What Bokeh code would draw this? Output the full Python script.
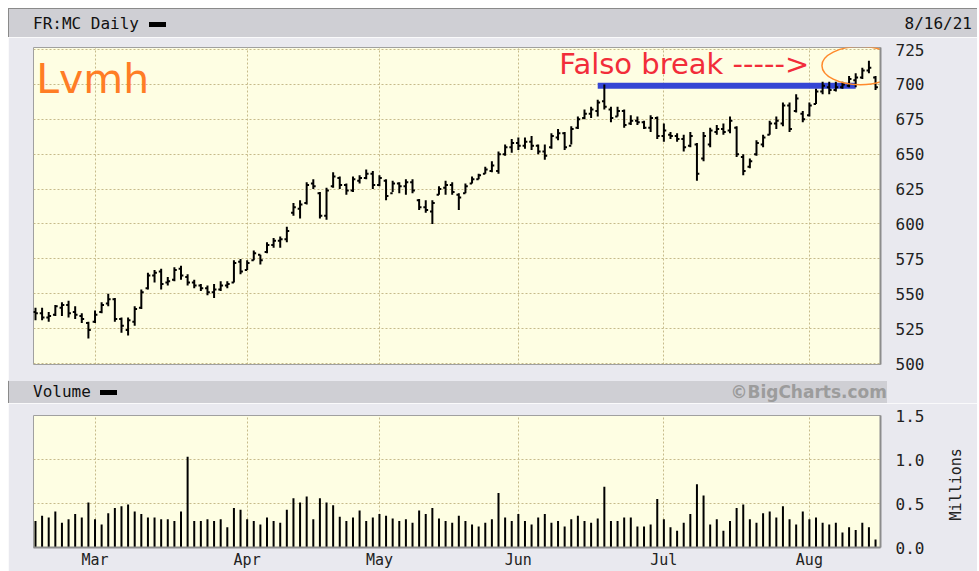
import math
from bokeh.plotting import figure
from bokeh.layouts import column
from bokeh.models import Div, FixedTicker, Label, ColumnDataSource, Range1d
from bokeh.embed import file_html
from bokeh.resources import INLINE

# ---------------- data (FR:MC daily, 16 Feb 2021 - 16 Aug 2021, one entry per trading day) ----
high = [540, 540, 537, 542, 544, 545, 541, 536, 530, 538, 544, 550, 547, 533, 533, 541, 553, 565, 567, 568,
        562, 569, 570, 564, 560, 557, 556, 557, 559, 559, 574, 575, 574, 581, 578, 587, 590, 591, 598, 615,
        617, 630, 632, 623, 626, 637, 634, 629, 634, 635, 639, 638, 635, 632, 631, 630, 632, 632, 618, 617,
        617, 627, 631, 630, 622, 629, 634, 636, 641, 645, 652, 657, 661, 662, 662, 663, 657, 657, 665, 668,
        666, 670, 677, 682, 684, 689, 700, 684, 684, 682, 678, 677, 674, 678, 677, 672, 666, 665, 664, 666,
        658, 666, 669, 671, 672, 677, 670, 650, 647, 660, 664, 674, 677, 687, 687, 693, 681, 687, 697, 702,
        702, 702, 702, 706, 708, 712, 717, 706]
low = [531, 531, 530, 534, 534, 533, 532, 529, 518, 529, 536, 541, 530, 522, 520, 527, 539, 553, 558, 553,
       556, 559, 560, 556, 554, 552, 549, 547, 552, 554, 558, 564, 567, 574, 571, 579, 583, 583, 587, 606,
       604, 614, 625, 604, 603, 626, 625, 621, 623, 629, 632, 625, 627, 617, 623, 622, 621, 622, 610, 608,
       600, 621, 621, 621, 610, 622, 629, 632, 636, 637, 636, 649, 651, 653, 654, 653, 650, 646, 654, 660,
       653, 657, 668, 675, 676, 677, 682, 673, 677, 669, 671, 671, 668, 666, 661, 659, 661, 659, 652, 655,
       631, 645, 655, 664, 664, 665, 648, 635, 640, 649, 655, 664, 668, 670, 666, 680, 673, 677, 686, 693,
       693, 695, 697, 698, 698, 704, 708, 696]
open_ = [537, 536, 533, 535, 540, 542, 537, 534, 529, 530, 537, 543, 546, 532, 524, 530, 540, 554, 563, 566,
         558, 560, 568, 562, 558, 556, 554, 551, 553, 556, 558, 573, 567, 574, 578, 580, 585, 588, 589, 608,
         611, 615, 629, 622, 606, 627, 633, 628, 624, 631, 633, 636, 628, 631, 622, 629, 627, 630, 617, 612,
         609, 621, 626, 628, 621, 622, 629, 632, 636, 638, 638, 650, 655, 658, 656, 659, 656, 652, 655, 662,
         665, 656, 669, 676, 679, 681, 688, 682, 677, 681, 672, 674, 673, 669, 676, 663, 664, 663, 661, 656,
         657, 647, 657, 666, 668, 667, 669, 648, 641, 650, 657, 664, 672, 672, 685, 681, 679, 678, 686, 695,
         698, 696, 698, 699, 703, 705, 710, 705]
close = [536, 533, 534, 541, 542, 536, 535, 532, 524, 535, 542, 546, 532, 527, 531, 539, 551, 563, 565, 557,
         559, 567, 563, 558, 556, 554, 551, 553, 556, 557, 572, 566, 572, 579, 574, 585, 588, 589, 595, 612,
         614, 628, 627, 606, 624, 634, 628, 624, 632, 633, 636, 628, 633, 620, 629, 627, 630, 624, 612, 610,
         615, 625, 628, 623, 619, 627, 632, 635, 639, 642, 650, 655, 658, 656, 659, 656, 652, 649, 663, 665,
         655, 668, 675, 679, 682, 687, 684, 676, 681, 671, 674, 673, 669, 676, 663, 667, 663, 661, 655, 663,
         636, 663, 667, 668, 666, 674, 650, 638, 645, 658, 662, 672, 674, 685, 668, 690, 675, 685, 695, 699,
         696, 698, 700, 704, 705, 710, 712, 698]
volume = [0.30, 0.36, 0.34, 0.41, 0.28, 0.32, 0.38, 0.34, 0.51, 0.32, 0.26, 0.39, 0.45, 0.47, 0.49, 0.41,
          0.38, 0.34, 0.34, 0.32, 0.32, 0.30, 0.41, 1.03, 0.30, 0.30, 0.32, 0.30, 0.32, 0.23, 0.45, 0.43,
          0.32, 0.30, 0.26, 0.34, 0.30, 0.28, 0.43, 0.56, 0.51, 0.58, 0.32, 0.56, 0.51, 0.48, 0.35, 0.30,
          0.34, 0.42, 0.30, 0.34, 0.38, 0.36, 0.33, 0.30, 0.32, 0.28, 0.42, 0.38, 0.45, 0.33, 0.30, 0.28,
          0.36, 0.30, 0.26, 0.24, 0.28, 0.32, 0.62, 0.34, 0.30, 0.38, 0.30, 0.26, 0.34, 0.38, 0.28, 0.30,
          0.24, 0.32, 0.36, 0.30, 0.28, 0.33, 0.69, 0.30, 0.30, 0.34, 0.34, 0.24, 0.24, 0.26, 0.55, 0.32,
          0.23, 0.19, 0.28, 0.38, 0.72, 0.59, 0.26, 0.32, 0.19, 0.30, 0.45, 0.49, 0.32, 0.28, 0.39, 0.41,
          0.34, 0.47, 0.32, 0.26, 0.41, 0.32, 0.34, 0.28, 0.26, 0.28, 0.17, 0.23, 0.20, 0.28, 0.23, 0.09]

month_labels = ["Mar", "Apr", "May", "Jun", "Jul", "Aug"]
month_start_idx = [9, 32, 52, 73, 95, 117]          # first trading day of each month
price_ticks = [500, 525, 550, 575, 600, 625, 650, 675, 700, 725]
vol_ticks = [0.0, 0.5, 1.0, 1.5]
vol_tick_labels = ["0.0", "0.5", "1.0", "1.5"]

breakout_level = 699          # horizontal resistance (blue line)
breakout_from, breakout_to = 85, 124
circle_center = (124.7, 713.5)   # highlighted "false break" zone
circle_size = (11.6, 27.3)

# ---------------- styling ----------------
W = 969
YELLOW = "#fefee3"
BG = "#e9e9ef"
BAND = "#cfcfd4"
GRID = "#c6bb8a"
MONO = "DejaVu Sans Mono"
LM = (0, 0, 0, 8)

n = len(high)
xs = list(range(n))
src = ColumnDataSource(dict(
    x=xs, xl=[i - 0.36 for i in xs], xr=[i + 0.36 for i in xs],
    o=open_, h=high, l=low, c=close, v=volume, z=[0] * n))

xr = Range1d(-0.3, 127.75)

# ---------------- header ----------------
header = Div(width=W, height=29, margin=(8, 0, 0, 8), text=(
    f'<div style="width:{W}px;height:29px;box-sizing:border-box;background:{BAND};'
    'border-top:1px solid #8a8a8a;border-left:1px solid #8a8a8a;display:flex;align-items:center;'
    f'justify-content:space-between;padding:2px 5px 0 24px;font-family:\'{MONO}\';font-size:16px;color:#111;">'
    '<span>FR:MC Daily <span style="display:inline-block;width:17px;height:5px;background:#000;'
    'vertical-align:middle;"></span></span><span>8/16/21</span></div>'))

# ---------------- price panel ----------------
p = figure(width=W, height=343, x_range=xr, y_range=Range1d(499.3, 726.5), margin=LM,
           x_axis_location=None, y_axis_location="right",
           output_backend="svg", toolbar_location=None,
           min_border_left=25, min_border_right=95, min_border_top=10, min_border_bottom=16)
p.background_fill_color = YELLOW
p.border_fill_color = BG
p.outline_line_color = "#a0a0a0"
p.outline_line_width = 1

p.yaxis.ticker = FixedTicker(ticks=price_ticks)
p.yaxis.major_tick_out = 0
p.yaxis.major_tick_in = 0
p.yaxis.minor_tick_out = 0
p.yaxis.major_label_standoff = 15
p.yaxis.major_label_text_font = MONO
p.yaxis.major_label_text_font_size = "16px"
p.yaxis.major_label_text_color = "#222222"
p.yaxis.axis_line_color = "#8c8c8c"
p.yaxis.axis_line_width = 2

p.ygrid.ticker = FixedTicker(ticks=price_ticks)
p.xgrid.ticker = FixedTicker(ticks=month_start_idx)
for g in (p.xgrid, p.ygrid):
    g.grid_line_color = GRID
    g.grid_line_dash = "2 2"
    g.grid_line_width = 1

# resistance line
p.segment(x0=[breakout_from], x1=[breakout_to], y0=[breakout_level], y1=[breakout_level],
          line_color="#3446d4", line_width=6)

# OHLC bars
p.segment(x0="x", x1="x", y0="l", y1="h", source=src, line_color="#000000", line_width=2)
p.segment(x0="xl", x1="x", y0="o", y1="o", source=src, line_color="#000000", line_width=2)
p.segment(x0="x", x1="xr", y0="c", y1="c", source=src, line_color="#000000", line_width=2)

# highlight ellipse
p.ellipse(x=[circle_center[0]], y=[circle_center[1]], width=[circle_size[0]], height=[circle_size[1]],
          fill_color=None, line_color="#ff8a2c", line_width=1.5)

p.add_layout(Label(x=0.1, y=704, text="Lvmh", text_font="DejaVu Sans", text_font_size="41px",
                   text_color="#ff7d25", text_baseline="alphabetic", text_align="left"))
p.add_layout(Label(x=79.2, y=714.5, text="Falso break ----->", text_font="DejaVu Sans",
                   text_font_size="29px", text_color="#f22d3a", text_baseline="alphabetic",
                   text_align="left"))

# ---------------- volume header ----------------
vol_header = Div(width=W, height=23, margin=LM, text=(
    f'<div style="width:{W}px;height:23px;background:{BG};position:relative;">'
    f'<div style="position:absolute;left:0;top:1px;width:879px;height:22px;background:{BAND};'
    'border-left:1px solid #8a8a8a;box-sizing:border-box;display:flex;align-items:center;'
    'justify-content:space-between;padding:0 0 0 24px;">'
    f'<span style="font-family:\'{MONO}\';font-size:16px;color:#111;">Volume '
    '<span style="display:inline-block;width:17px;height:5px;background:#000;vertical-align:middle;">'
    '</span></span>'
    '<span style="font-family:\'DejaVu Sans\';font-weight:bold;font-size:17px;color:#9c9c9c;">'
    '©BigCharts.com</span></div></div>'))

# ---------------- volume panel ----------------
v = figure(width=W, height=168, x_range=xr, y_range=Range1d(0, 1.5), margin=LM,
           y_axis_location="right", output_backend="svg", toolbar_location=None,
           min_border_left=25, min_border_right=95, min_border_top=12, min_border_bottom=18)
v.background_fill_color = YELLOW
v.border_fill_color = BG
v.outline_line_color = "#a0a0a0"

v.segment(x0="x", x1="x", y0="z", y1="v", source=src, line_color="#000000", line_width=2)

vax = v.yaxis[0]
props = vax.properties()
vax.ticker = FixedTicker(ticks=vol_ticks)
vax.major_label_overrides = {t: s for t, s in zip(vol_ticks, vol_tick_labels)}
vax.major_tick_out = 0
vax.major_tick_in = 0
vax.minor_tick_out = 0
vax.major_label_standoff = 15
vax.major_label_text_font = MONO
vax.major_label_text_font_size = "16px"
vax.major_label_text_color = "#222222"
vax.axis_line_color = "#8c8c8c"
vax.axis_line_width = 2
vax.axis_label_text_font = MONO
vax.axis_label_text_font_size = "15px"
vax.axis_label_text_font_style = "normal"
vax.axis_label_text_color = "#222222"
vax.axis_label_standoff = 29
if "axis_label_orientation" in props and "axis_label_align" in props:
    vax.axis_label_orientation = math.pi / 2
    vax.axis_label_align = "start"
    vax.axis_label = "\u00a0\u00a0\u00a0Millions"
else:
    vax.axis_label = "Millions"

v.xaxis.ticker = FixedTicker(ticks=month_start_idx)
v.xaxis.major_label_overrides = {i: m for i, m in zip(month_start_idx, month_labels)}
v.xaxis.major_tick_out = 0
v.xaxis.major_tick_in = 0
v.xaxis.minor_tick_out = 0
v.xaxis.major_label_standoff = 3
v.xaxis.major_label_text_font = MONO
v.xaxis.major_label_text_font_size = "15px"
v.xaxis.major_label_text_color = "#222222"
v.xaxis.axis_line_color = "#8c8c8c"
v.xaxis.axis_line_width = 2

v.ygrid.ticker = FixedTicker(ticks=vol_ticks)
for g in (v.xgrid, v.ygrid):
    g.grid_line_color = GRID
    g.grid_line_dash = "2 2"
    g.grid_line_width = 1

layout = column(header, p, vol_header, v, spacing=0)
open("out.html", "w").write(file_html(layout, INLINE))
